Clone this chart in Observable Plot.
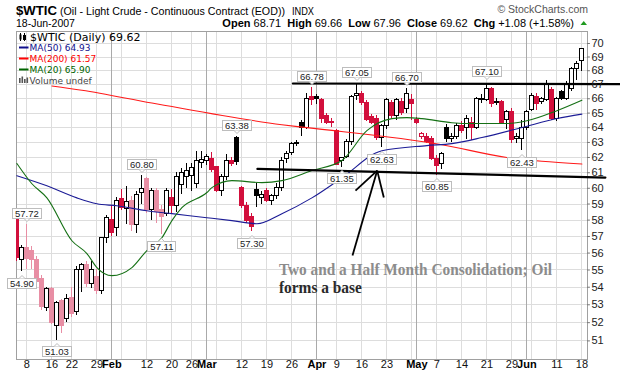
<!DOCTYPE html>
<html><head><meta charset="utf-8">
<script src="https://cdn.jsdelivr.net/npm/d3@7"></script>
<script src="https://cdn.jsdelivr.net/npm/@observablehq/plot@0.6"></script>
<style>
body{margin:0;background:#fff;}
#wrap{width:620px;height:376px;overflow:hidden;}
</style></head><body><div id="wrap"></div>
<script>
// ---- trading days (x positions are trading-day indices) ----
const dates = [
"2007-01-04","2007-01-05","2007-01-08","2007-01-09","2007-01-10","2007-01-11","2007-01-12","2007-01-16","2007-01-17","2007-01-18",
"2007-01-19","2007-01-22","2007-01-23","2007-01-24","2007-01-25","2007-01-26","2007-01-29","2007-01-30","2007-01-31","2007-02-01",
"2007-02-02","2007-02-05","2007-02-06","2007-02-07","2007-02-08","2007-02-09","2007-02-12","2007-02-13","2007-02-14","2007-02-15",
"2007-02-16","2007-02-20","2007-02-21","2007-02-22","2007-02-23","2007-02-26","2007-02-27","2007-02-28","2007-03-01","2007-03-02",
"2007-03-05","2007-03-06","2007-03-07","2007-03-08","2007-03-09","2007-03-12","2007-03-13","2007-03-14","2007-03-15","2007-03-16",
"2007-03-19","2007-03-20","2007-03-21","2007-03-22","2007-03-23","2007-03-26","2007-03-27","2007-03-28","2007-03-29","2007-03-30",
"2007-04-02","2007-04-03","2007-04-04","2007-04-05","2007-04-09","2007-04-10","2007-04-11","2007-04-12","2007-04-13","2007-04-16",
"2007-04-17","2007-04-18","2007-04-19","2007-04-20","2007-04-23","2007-04-24","2007-04-25","2007-04-26","2007-04-27","2007-04-30",
"2007-05-01","2007-05-02","2007-05-03","2007-05-04","2007-05-07","2007-05-08","2007-05-09","2007-05-10","2007-05-11","2007-05-14",
"2007-05-15","2007-05-16","2007-05-17","2007-05-18","2007-05-21","2007-05-22","2007-05-23","2007-05-24","2007-05-25","2007-05-29",
"2007-05-30","2007-05-31","2007-06-01","2007-06-04","2007-06-05","2007-06-06","2007-06-07","2007-06-08","2007-06-11","2007-06-12",
"2007-06-13","2007-06-14","2007-06-15","2007-06-18"];
const prevClose = 58.32; // close before first visible day
const open = [
58.0,55.6,56.3,56.1,55.6,54.5,52.8,53.9,51.8,53.2,
52.2,53.4,52.6,55.0,55.3,54.2,54.6,53.8,56.9,58.0,
57.5,59.3,58.7,59.2,57.7,59.7,60.6,58.6,59.8,58.6,
58.4,59.4,58.9,60.2,60.7,60.8,60.3,61.65,61.8,61.9,
61.35,59.85,60.7,61.8,63.3,60.0,58.9,58.2,59.9,59.4,
59.85,59.2,59.5,60.0,61.9,62.3,62.95,64.35,64.0,66.1,
66.1,65.9,64.8,64.4,63.8,61.75,62.0,63.0,66.2,66.3,
65.7,64.7,64.6,63.3,64.1,65.7,64.8,65.8,65.3,65.9,
64.5,63.4,63.4,63.2,61.9,61.6,64.0,63.2,63.4,64.1,
64.0,64.3,64.0,65.9,65.9,66.7,65.7,65.75,64.5,65.05,
63.2,63.2,64.0,65.2,66.1,65.8,65.9,66.6,64.6,66.5,
66.0,66.7,68.1,68.71];
const high = [
58.1,56.45,57.72,56.4,55.8,54.7,54.0,54.0,53.2,53.3,
53.6,54.0,55.2,55.4,55.5,55.5,55.0,56.95,58.3,58.9,
59.4,59.9,60.1,59.5,59.8,60.80,60.7,60.0,60.0,58.9,
60.0,59.9,61.0,61.3,61.6,61.6,62.4,62.4,62.2,62.3,
61.4,60.9,62.2,62.0,63.38,60.1,59.1,58.4,60.3,59.8,
60.0,59.6,60.3,62.0,62.4,63.0,63.1,64.5,66.4,66.78,
66.3,66.0,65.0,64.6,63.9,62.0,63.2,66.2,67.05,66.5,
65.9,64.9,64.8,64.2,66.0,65.9,66.0,66.0,66.70,66.3,
64.7,63.7,63.6,63.4,62.1,62.3,64.2,63.6,64.3,64.4,
64.8,64.7,66.1,66.3,67.10,66.8,66.0,65.9,65.2,65.35,
63.6,64.5,65.2,66.4,66.4,66.1,67.3,66.8,66.1,66.6,
67.2,68.2,68.7,69.66];
const low = [
55.5,54.90,55.0,55.0,54.0,52.7,52.6,51.9,51.03,51.4,
52.0,52.3,52.4,53.7,54.0,53.9,53.6,53.6,56.6,57.0,
57.0,58.6,57.7,57.3,57.2,59.0,58.4,58.0,57.8,57.11,
58.2,58.4,58.5,59.6,60.0,59.8,60.0,61.3,61.5,61.0,
59.7,59.5,60.5,61.4,61.45,58.7,57.8,57.30,58.8,59.0,
59.1,58.9,59.3,59.8,61.6,62.1,62.7,63.4,63.9,65.5,
65.6,64.3,64.2,64.0,61.5,61.35,61.9,62.8,65.9,65.5,
64.4,64.2,63.1,62.63,63.9,64.6,64.5,64.8,65.0,64.5,
64.2,63.2,62.9,61.8,60.85,61.2,63.0,63.0,63.2,63.6,
63.2,63.1,63.9,65.7,65.8,65.4,65.5,64.2,63.9,62.9,
62.9,62.43,63.8,65.1,65.2,65.6,65.8,64.5,64.4,65.9,
65.9,66.5,67.3,67.96];
const close = [
55.7,56.3,55.65,55.6,54.3,52.9,53.9,52.0,53.1,51.8,
53.35,52.5,55.0,55.3,54.2,55.0,53.8,56.9,58.1,57.2,
59.2,58.75,59.1,57.7,59.6,59.95,58.6,59.8,58.5,58.2,
59.8,58.9,60.7,61.0,61.1,61.3,61.8,61.85,62.0,61.15,
59.85,60.7,61.8,61.6,61.7,58.9,57.95,57.6,59.5,59.6,
59.2,59.5,60.0,61.8,62.2,62.9,62.92,64.0,66.0,65.9,
65.95,64.6,64.35,64.3,61.5,61.95,63.0,66.1,66.3,65.7,
64.5,64.35,63.3,64.1,65.9,64.8,65.9,65.0,66.3,65.6,
64.35,63.6,63.0,61.9,61.45,62.2,63.2,63.4,64.1,63.8,
64.6,64.0,65.95,66.0,66.7,65.6,65.8,64.3,65.05,63.15,
63.4,64.0,65.1,66.2,65.6,65.95,67.0,64.6,65.95,66.0,
67.0,68.1,68.5,69.62];

// ---- moving averages, read at sample days (index into dates) ----
const ma50At  = [0,6,12,16,20,26,31,38,43,48,53,59,65,73,82,87,93,101,108,113];
const ma50    = [60.81,60.16,59.39,59.02,58.89,58.58,58.40,58.15,57.97,57.78,58.40,59.39,60.67,62.45,62.79,62.92,63.33,64.01,64.63,64.93];
const ma200At = [7,13,27,53,58,85,98,105,113];
const ma200   = [66.9,66.6,65.7,64.2,64.0,62.85,62.0,61.75,61.57];
const ma20At  = [0,3,6,11,14,16,19,23,26,29,31,33,38,39,43,49,53,59,65,70,75,78,81,87,91,98,102,108,113];
const ma20    = [61.6,60.29,59.39,56.74,55.97,55.14,54.67,55.14,56.15,56.92,57.97,58.77,59.73,60.04,60.49,60.36,60.49,61.14,61.8,63.8,64.62,64.69,64.62,64.34,64.28,64.28,64.47,65.17,65.9];

// ---- labelled highs / lows ----
const highLabelAt = [2,25,44,59,68,78,94];
const lowLabelAt  = [1,8,29,47,65,73,84,101];

// ---- axis ticks ----
const yTickVals = [51,52,53,54,55,56,57,58,59,60,61,62,63,64,65,66,67,68,69,70];
const weekTickAt = [2,7,11,16,26,31,35,45,50,55,64,69,74,84,89,94,99,108,113];
const weekTickLabels = ["8","16","22","29","12","20","26","12","19","26","9","16","23","7","14","21","29","11","18"];
const monthTickAt = [19,38,60,80,102];
const monthTickLabels = ["Feb","Mar","Apr","May","Jun"];

// ---- hand-drawn annotations (trading-day index, price) ----
const resistX = [55.2, 120.7], resistY = [67.08, 67.04];
const supportX = [48.1, 117.7], supportY = [61.25, 60.69];
const arrowX1 = [72.06, 72.06, 72.06], arrowY1 = [61.14, 61.14, 61.14];
const arrowX2 = [67.12, 67.72, 73.38], arrowY2 = [55.85, 59.85, 59.41];
const noteLines = ["Two and a Half Month Consolidation; Oil", "forms a base"];
const noteX = 52.4, noteY = [54.73, 53.69];

// ---- build tables ----
const RED = "#d20f3c", PINK = "#e88ea4";
const candles = dates.map((d, i) => {
  const prev = i === 0 ? prevClose : close[i - 1];
  return {i, date: d, o: open[i], h: high[i], l: low[i], c: close[i], up: close[i] >= prev, hollow: close[i] > open[i]};
});
const colorOf = d => d.up ? "#000" : ((d.i >= 2 && d.i <= 16) || (d.i >= 23 && d.i <= 29) ? PINK : RED);
const pts = (at, vals) => at.map((k, j) => ({i: k, v: vals[j]}));
const weekStarts = [], monthStarts = [];
dates.forEach((d, i) => {
  if (i === 0) return;
  const a = new Date(dates[i - 1] + "T00:00:00Z"), b = new Date(d + "T00:00:00Z");
  if (b.getUTCDay() < a.getUTCDay() || (b - a) > 3 * 864e5) weekStarts.push(i);
  if (b.getUTCMonth() !== a.getUTCMonth()) monthStarts.push(i);
});
const weekTicks = weekTickAt.map((k, j) => ({i: k, label: weekTickLabels[j]}));
const monthTicks = monthTickAt.map((k, j) => ({i: k, label: monthTickLabels[j]}));
const hiLab = highLabelAt.map(k => ({i: k, v: high[k]}));
const loLab = lowLabelAt.map(k => ({i: k, v: low[k]}));
const arrow = arrowX1.map((x, j) => ({x1: x, y1: arrowY1[j], x2: arrowX2[j], y2: arrowY2[j]}));
const resist = resistX.map((x, j) => ({i: x, v: resistY[j]}));
const support = supportX.map((x, j) => ({i: x, v: supportY[j]}));

const chart = Plot.plot({
  width: 620, height: 376,
  marginTop: 31, marginRight: 33, marginBottom: 17, marginLeft: 16,
  x: {type: "linear", domain: [-0.08, 114.12], axis: null},
  y: {type: "log", domain: [50, 70.9], axis: null},
  style: {fontFamily: "'Liberation Sans', Arial, sans-serif", fontSize: "11px", background: "#fff", overflow: "visible"},
  marks: [
    Plot.ruleY(yTickVals, {stroke: "#dddddd", shapeRendering: "crispEdges"}),
    Plot.ruleX(weekStarts, {stroke: "#dddddd", shapeRendering: "crispEdges"}),
    Plot.ruleX(monthStarts, {stroke: "#aaaaaa", shapeRendering: "crispEdges"}),
    Plot.frame({stroke: "#a0a0a0", shapeRendering: "crispEdges"}),
    Plot.ruleY(yTickVals, {x1: 114.12, x2: 114.7, stroke: "#777"}),
    Plot.ruleX(candles, {x: "i", y1: "l", y2: "h", stroke: colorOf, clip: true, shapeRendering: "crispEdges"}),
    Plot.rect(candles, {x1: d => d.i - 0.36, x2: d => d.i + 0.36, y1: "o", y2: "c",
      fill: d => d.hollow ? "#fff" : colorOf(d), stroke: colorOf, clip: true, shapeRendering: "crispEdges"}),
    Plot.line(pts(ma200At, ma200), {x: "i", y: "v", stroke: "#ff1a1a", strokeWidth: 1.1, curve: "monotone-x", clip: true}),
    Plot.line(pts(ma50At, ma50), {x: "i", y: "v", stroke: "#1c1c96", strokeWidth: 1.1, curve: "monotone-x", clip: true}),
    Plot.line(pts(ma20At, ma20), {x: "i", y: "v", stroke: "#157015", strokeWidth: 1.1, curve: "monotone-x", clip: true}),
    Plot.line(resist, {x: "i", y: "v", stroke: "#000", strokeWidth: 2.2}),
    Plot.line(support, {x: "i", y: "v", stroke: "#000", strokeWidth: 2.2}),
    Plot.link(arrow, {x1: "x1", y1: "y1", x2: "x2", y2: "y2", stroke: "#000", strokeWidth: 1.8}),
    Plot.text([noteLines[0]], {x: noteX, y: noteY[0], text: d => d, textAnchor: "start", lineAnchor: "bottom",
      fontFamily: "'Liberation Serif', serif", fontWeight: "bold", fontSize: 16, fill: "#8c8c8c", ariaDescription: "note1"}),
    Plot.text([noteLines[1]], {x: noteX, y: noteY[1], text: d => d, textAnchor: "start", lineAnchor: "bottom",
      fontFamily: "'Liberation Serif', serif", fontWeight: "bold", fontSize: 16, fill: "#2a2a2a", ariaDescription: "note2"}),
    Plot.text(hiLab, {x: "i", y: "v", text: d => d.v.toFixed(2), dy: -11, fontSize: 9.5, fill: "#222", ariaDescription: "hilab"}),
    Plot.text(loLab, {x: "i", y: "v", text: d => d.v.toFixed(2), dy: 12, fontSize: 9.5, fill: "#222", ariaDescription: "lolab"}),
    Plot.text(yTickVals, {frameAnchor: "right", y: d => d, text: d => String(d), dx: 4, textAnchor: "start", fill: "#222", fontSize: 11}),
    Plot.text(weekTicks, {x: "i", frameAnchor: "bottom", text: "label", dy: 8, fill: "#111", fontSize: 11}),
    Plot.text(monthTicks, {x: "i", frameAnchor: "bottom", text: "label", dy: 8, fill: "#000", fontSize: 11, fontWeight: "bold"})
  ]
});
document.getElementById("wrap").appendChild(chart);

// stretch the hand-written note to the width it has in the picture
[["note1", 273], ["note2", 83]].forEach(([tag, w]) => {
  const t = chart.querySelector(`g[aria-description="${tag}"] text`);
  if (t) { t.setAttribute("textLength", w); t.setAttribute("lengthAdjust", "spacingAndGlyphs"); }
});

// ---- boxes behind the price labels ----
const svg = d3.select(chart);
const sr = chart.getBoundingClientRect();
["hilab", "lolab"].forEach(tag => {
  const g = chart.querySelector(`g[aria-description="${tag}"]`);
  if (!g) return;
  g.querySelectorAll("text").forEach(t => {
    const r = t.getBoundingClientRect();
    const x = Math.round(r.left - sr.left) - 2.5, y = Math.round(r.top - sr.top) + 0.5;
    const w = Math.round(r.width) + 5, h = Math.round(r.height) - 1;
    const cx = x + w / 2;
    const box = document.createElementNS("http://www.w3.org/2000/svg", "g");
    d3.select(box).append("rect").attr("x", x).attr("y", y).attr("width", w).attr("height", h)
      .attr("fill", "#fff").attr("stroke", "#bdbdbd");
    const ny = tag === "hilab" ? y + h : y, d = tag === "hilab" ? 3 : -3;
    d3.select(box).append("path").attr("d", `M${cx - 3},${ny}L${cx},${ny + d}L${cx + 3},${ny}`)
      .attr("fill", "#fff").attr("stroke", "#bdbdbd");
    chart.insertBefore(box, g);
  });
});

// ---- header and legend ----
function txt(x, y, parts, o = {}) {
  const t = svg.append("text").attr("x", x).attr("y", y)
    .attr("font-family", o.family || "'Liberation Sans', Arial, sans-serif")
    .attr("font-size", o.size || 11).attr("fill", o.fill || "#000")
    .attr("text-anchor", o.anchor || "start").style("white-space", "pre");
  if (o.len) t.attr("textLength", o.len).attr("lengthAdjust", "spacingAndGlyphs");
  parts.forEach(p => t.append("tspan").text(p[0]).attr("font-weight", p[1] || "normal").attr("fill", p[2] || null));
  return t;
}
txt(16, 15, [["$WTIC", "bold"]], {size: 13.5, len: 41});
txt(60, 14.5, [["(Oil - Light Crude - Continuous Contract (EOD))"]], {size: 11, len: 225});
txt(292, 14.5, [["INDX"]], {size: 10.5, len: 22});
txt(588, 12.5, [["© StockCharts.com"]], {size: 10.5, fill: "#555", anchor: "end"});
txt(16, 27, [["18-Jun-2007"]], {size: 10.5});
txt(574, 27, [["Open", "bold"], [" 68.71  "], ["High", "bold"], [" 69.66  "], ["Low", "bold"], [" 67.96  "],
  ["Close", "bold"], [" 69.62  "], ["Chg", "bold"], [" +1.08 (+1.58%)"]], {size: 11, anchor: "end"});
svg.append("path").attr("d", "M580.5,25L587,25L583.75,21Z").attr("fill", "#1f9a1f");

const DJ = "'DejaVu Sans', Verdana, sans-serif";
// candle icon
svg.append("rect").attr("x", 19.5).attr("y", 34.5).attr("width", 2).attr("height", 5).attr("fill", "#000");
svg.append("line").attr("x1", 20.5).attr("x2", 20.5).attr("y1", 33).attr("y2", 41).attr("stroke", "#000");
svg.append("rect").attr("x", 23.5).attr("y", 35.5).attr("width", 2).attr("height", 4).attr("fill", "#fff").attr("stroke", "#000");
svg.append("line").attr("x1", 24.5).attr("x2", 24.5).attr("y1", 33).attr("y2", 41).attr("stroke", "#000");
txt(30, 40.5, [["$WTIC (Daily) 69.62"]], {family: DJ, size: 11});
[["MA(50) 64.93", "#10108c", 47.5, 50.5], ["MA(200) 61.57", "#ff0000", 58.5, 61.5], ["MA(20) 65.90", "#006400", 69.5, 72.5]].forEach(r => {
  svg.append("line").attr("x1", 19).attr("x2", 28.5).attr("y1", r[2]).attr("y2", r[2]).attr("stroke", r[1]).attr("stroke-width", 2);
  txt(29.5, r[3], [[r[0]]], {family: DJ, size: 9, fill: r[1]});
});
[[19, 78, 5], [21.5, 76.5, 6.5], [24, 79, 4], [26.5, 77.5, 5.5]].forEach(b =>
  svg.append("rect").attr("x", b[0]).attr("y", b[1]).attr("width", 1.6).attr("height", b[2]).attr("fill", "#555"));
txt(29.5, 83.5, [["Volume undef"]], {family: DJ, size: 9, fill: "#444"});
</script></body></html>
